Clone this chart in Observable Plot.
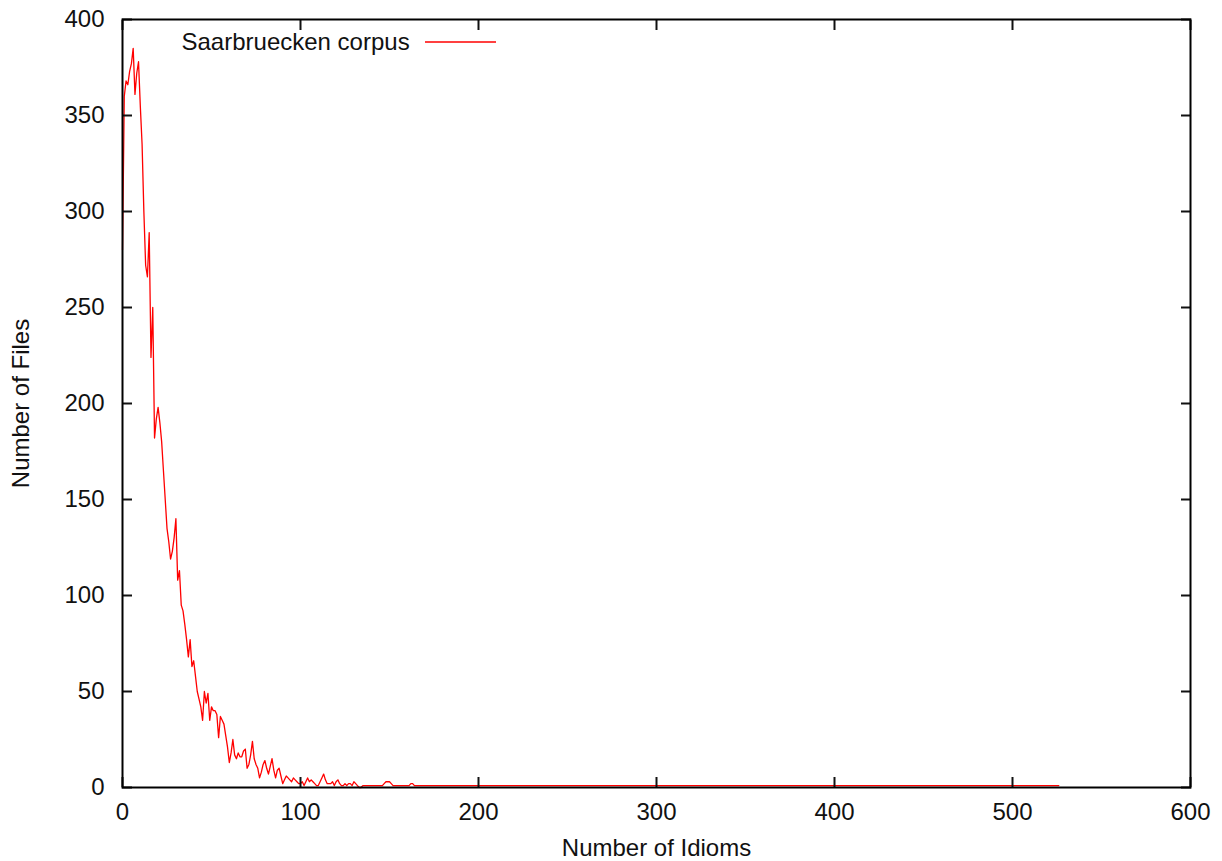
<!DOCTYPE html>
<html>
<head>
<meta charset="utf-8">
<script src="https://cdn.jsdelivr.net/npm/d3@7"></script>
<script src="https://cdn.jsdelivr.net/npm/@observablehq/plot@0.6"></script>
<style>
  html, body { margin: 0; padding: 0; background: #fff; }
  #chart svg { display: block; }
</style>
</head>
<body>
<div id="chart"></div>
<script>
// Tick labels
const xTicks = [0, 100, 200, 300, 400, 500, 600];
const yTicks = [0, 50, 100, 150, 200, 250, 300, 350, 400];

// Number of files for idiom counts 0..164
const fileCounts = [
  280, 360, 368, 366, 373, 377, 385, 361, 372, 378, // 0-9
  355, 335, 300, 272, 266, 289, 224, 250, 182, 192, // 10-19
  198, 190, 180, 165, 150, 135, 128, 119, 123, 130, // 20-29
  140, 108, 113, 95, 92, 85, 77, 68, 77, 63,         // 30-39
  66, 58, 50, 46, 42, 35, 50, 44, 49, 35,            // 40-49
  42, 40, 40, 38, 26, 37, 35, 33, 27, 21,            // 50-59
  13, 18, 25, 17, 15, 18, 16, 16, 19, 20,            // 60-69
  10, 12, 17, 24, 15, 12, 10, 5, 8, 12,              // 70-79
  14, 10, 7, 11, 15, 9, 5, 9, 10, 6,                 // 80-89
  2, 4, 6, 5, 4, 3, 5, 4, 3, 2,                      // 90-99
  2, 3, 1, 3, 5, 3, 4, 3, 2, 1,                      // 100-109
  1, 3, 5, 7, 4, 2, 2, 2, 3, 1,                      // 110-119
  3, 4, 2, 1, 1, 2, 1, 2, 2, 1,                      // 120-129
  3, 2, 1, 0, 0, 1, 1, 1, 1, 1,                      // 130-139
  1, 1, 1, 1, 1, 1, 1, 2, 3, 3,                      // 140-149
  3, 2, 1, 1, 1, 1, 1, 1, 1, 1,                      // 150-159
  1, 1, 2, 2, 1                                      // 160-164
];
// flat tail of the curve
const tailIdioms = [165, 526];
const tailFiles = [1, 1];

const seriesName = "Saarbruecken corpus";
const xLabel = "Number of Idioms";
const yLabel = "Number of Files";

const data = fileCounts.map((v, i) => ({idioms: i, files: v}))
  .concat(tailIdioms.map((x, i) => ({idioms: x, files: tailFiles[i]})));

const chart = Plot.plot({
  width: 1222,
  height: 861,
  marginLeft: 122,
  marginRight: 32,
  marginTop: 19,
  marginBottom: 74,
  style: {fontFamily: "'Liberation Sans', Arial, sans-serif", fontSize: "24px", color: "#111", background: "#fff"},
  x: {domain: [0, 600]},
  y: {domain: [0, 400]},
  marks: [
    Plot.line(data, {x: "idioms", y: "files", stroke: "#ff0000", strokeWidth: 1.3}),
    // inward ticks on all four sides
    Plot.axisX(xTicks, {anchor: "bottom", label: null, text: null, tickSize: 10, dy: -10, strokeWidth: 2}),
    Plot.axisX(xTicks, {anchor: "top", label: null, text: null, tickSize: 10, dy: 10, strokeWidth: 2}),
    Plot.axisY(yTicks, {anchor: "left", label: null, text: null, tickSize: 10, dx: 10, strokeWidth: 2}),
    Plot.axisY(yTicks, {anchor: "right", label: null, text: null, tickSize: 10, dx: -10, strokeWidth: 2}),
    // tick labels
    Plot.axisX(xTicks, {anchor: "bottom", label: null, tickSize: 0, tickPadding: 15}),
    Plot.axisY(yTicks, {anchor: "left", label: null, tickSize: 0, tickPadding: 18}),
    // axis titles
    Plot.text([xLabel], {frameAnchor: "bottom", dy: 61, lineAnchor: "middle", textAnchor: "middle", text: d => d}),
    Plot.text([yLabel], {frameAnchor: "left", dx: -101, rotate: -90, lineAnchor: "middle", textAnchor: "middle", text: d => d}),
    // legend text
    Plot.text([seriesName], {frameAnchor: "top-left", dx: 59, dy: 23, textAnchor: "start", lineAnchor: "middle", text: d => d}),
    Plot.frame({stroke: "black", strokeWidth: 2})
  ]
});

// legend line sample
d3.select(chart).append("line")
  .attr("x1", 425).attr("x2", 496).attr("y1", 42).attr("y2", 42)
  .attr("stroke", "#ff0000").attr("stroke-width", 1.3);

document.getElementById("chart").appendChild(chart);
</script>
</body>
</html>
